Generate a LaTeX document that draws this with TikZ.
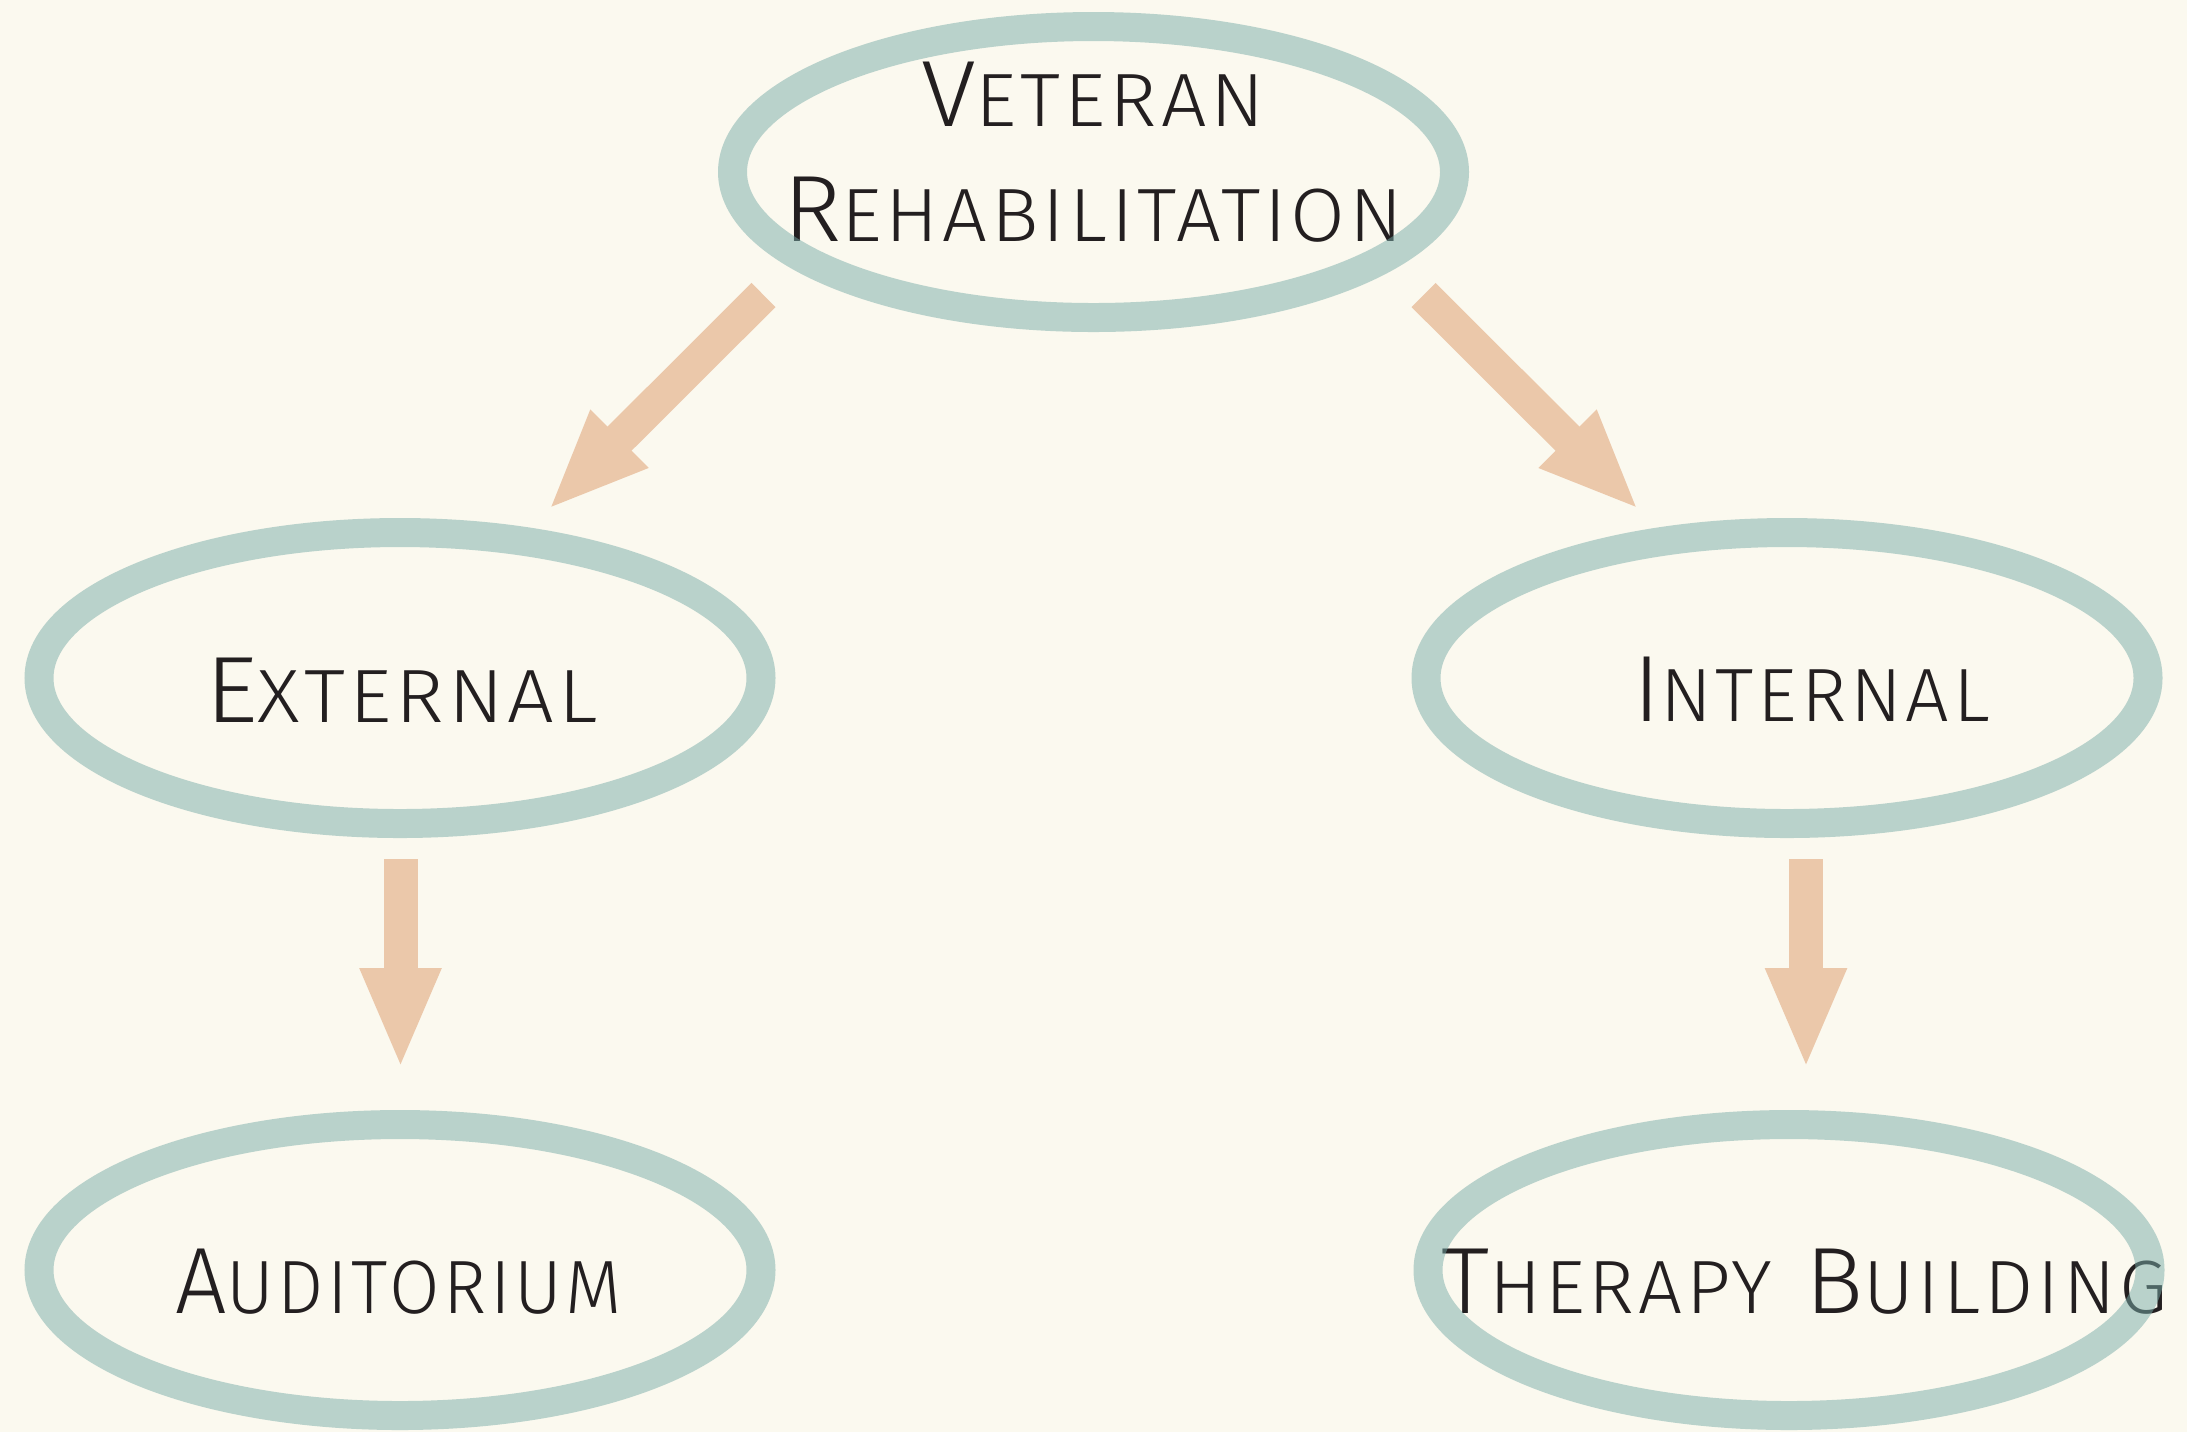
\documentclass[tikz,border=0pt]{standalone}
\usepackage{fontspec}
\usepackage{graphicx}
\setmainfont{Fira Sans}[UprightFont={* Light}, LetterSpace=5]
\usetikzlibrary{shapes.geometric,arrows.meta}
\definecolor{paper}{RGB}{251,249,239}
\definecolor{ringc}{RGB}{120,172,168}
\definecolor{arrowc}{RGB}{235,200,170}
\definecolor{inkc}{RGB}{35,31,32}
\newcommand\scw[2]{{\fontsize{26.8pt}{30pt}\selectfont #1}{\fontsize{21.5pt}{25pt}\selectfont #2}}
\newcommand\fitw[2]{\resizebox{#1}{6.45mm}{#2}}
\tikzset{
  ring/.style={ellipse, draw=ringc, draw opacity=0.5, line width=2.9mm,
    minimum width=72.2mm, minimum height=29.1mm, inner sep=0pt},
  lbl/.style={anchor=base west, inner sep=0pt, outer sep=0pt, text=inkc},
  fatarrow/.style={draw=arrowc, line width=3.4mm,
    -{Triangle[length=10.1mm, width=7.4mm]}}
}
\begin{document}
\begin{tikzpicture}[x=0.1mm, y=-0.1mm]
\fill[paper] (0,0) rectangle (2187,1432);
\useasboundingbox (0,0) rectangle (2187,1432);

% texts (under the rings)
\node[lbl] (t1) at (921,126) {\fitw{34.4mm}{\scw{V}{ETERAN}}};
\node[lbl] (t2) at (783,241) {\fitw{62.0mm}{\scw{R}{EHABILITATION}}};
\node[lbl] (t3) at (205,722) {\fitw{39.3mm}{\scw{E}{XTERNAL}}};
\node[lbl] (t4) at (1633,721) {\fitw{35.7mm}{\scw{I}{NTERNAL}}};
\node[lbl] (t5) at (175,1313) {\fitw{44.7mm}{\scw{A}{UDITORIUM}}};
\node[lbl] (t6) at (1441,1313) {\fitw{72.7mm}{\scw{T}{HERAPY}\hspace{0.9em}\scw{B}{UILDING}}};

% rings
\node[ring] (vet) at (1093.5,172) {};
\node[ring] (ext) at (400,678) {};
\node[ring] (int) at (1787,678) {};
\node[ring] (aud) at (400,1270) {};
\node[ring] (ther) at (1789,1270) {};

% arrow end points
\coordinate (a1s) at (763.5,295);
\coordinate (a1e) at (548,510);
\coordinate (a2s) at (1423.5,295);
\coordinate (a2e) at (1639,510);
\coordinate (a3s) at (400.5,859);
\coordinate (a3e) at (400.5,1069);
\coordinate (a4s) at (1806,859);
\coordinate (a4e) at (1806,1069);

\draw[fatarrow] (a1s) -- (a1e);
\draw[fatarrow] (a2s) -- (a2e);
\draw[fatarrow] (a3s) -- (a3e);
\draw[fatarrow] (a4s) -- (a4e);
\end{tikzpicture}
\end{document}
